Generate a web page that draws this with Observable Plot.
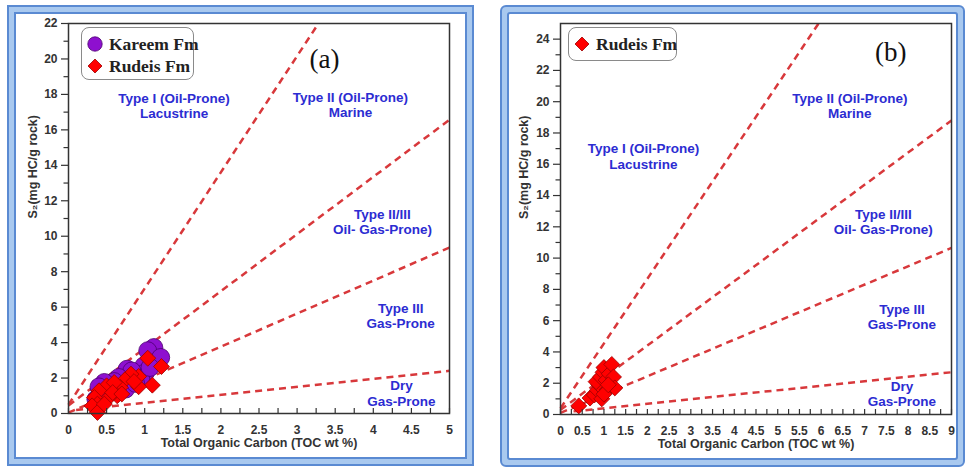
<!DOCTYPE html>
<html>
<head>
<meta charset="utf-8">
<script src="https://cdn.jsdelivr.net/npm/d3@7"></script>
<script src="https://cdn.jsdelivr.net/npm/@observablehq/plot@0.6"></script>
<style>
  body { margin: 0; background: #fff; }
  #page { position: relative; width: 967px; height: 467px; overflow: hidden; font-family: "Liberation Sans", Arial, sans-serif; }
  .border { position: absolute; box-sizing: border-box; border: 2px solid #5a8ad2; background: #a9c9ef; padding: 5px; }
  .border > div { box-sizing: border-box; width: 100%; height: 100%; border: 2px solid #5a8ad2; background: #fff; }
  .chart { position: absolute; top: 0; }
  .legend { position: absolute; box-sizing: border-box; border: 1.5px solid #8a8a8a; border-radius: 8px; background: #fff;
            font-family: "Liberation Serif", "Times New Roman", serif; font-weight: bold; font-size: 17.5px; color: #222; }
  .legend .row { position: absolute; left: 4px; height: 20px; display: flex; align-items: center; white-space: nowrap; }
  .legend .row svg { margin-right: 5px; }
</style>
</head>
<body>
<div id="page">
  <div class="border" style="left:7px; top:5px; width:467px; height:461px;"><div></div></div>
  <div class="border" style="left:500px; top:5px; width:465px; height:462px; border-radius:6px;"><div style="border-radius:3px;"></div></div>
</div>
<script>
// Kareem Fm samples (panel a): TOC wt % and S2 mg HC/g rock
const kareemTOC = [1.12, 1.04, 1.21, 0.99, 1.01, 0.77, 0.83, 0.66, 0.60, 0.47, 0.40, 0.95, 1.07, 0.36, 0.75, 0.56, 0.88, 0.52];
const kareemS2  = [3.72, 3.54, 3.16, 2.69, 2.31, 2.50, 2.40, 2.03, 1.80, 1.75, 1.50, 1.94, 2.60, 0.80, 1.38, 1.40, 1.70, 1.20];

// Rudeis Fm samples (panel a)
const rudeisTOC_a = [1.04, 1.22, 1.10, 0.92, 0.92, 0.82, 0.74, 0.68, 0.64, 0.53, 0.50, 0.40, 0.34, 0.38, 0.31, 0.38, 0.60, 0.47, 0.58, 0.86, 0.70];
const rudeisS2_a  = [3.12, 2.65, 1.60, 1.51, 2.09, 2.22, 1.90, 1.47, 1.00, 0.90, 1.56, 1.28, 0.90, 0.53, 0.43, 0.06, 1.75, 0.53, 1.18, 1.80, 1.10];

// Rudeis Fm samples (panel b)
const rudeisTOC_b = [0.42, 0.68, 0.78, 0.85, 0.88, 0.82, 0.95, 0.92, 0.98, 1.00, 1.05, 1.08, 1.12, 1.18, 1.22, 1.25, 1.00, 1.10];
const rudeisS2_b  = [0.55, 1.05, 1.25, 1.55, 1.90, 2.10, 1.00, 2.40, 2.70, 3.00, 2.20, 1.60, 2.60, 3.20, 2.40, 1.70, 1.30, 1.90];

// Kerogen-type boundary lines: start and end points (TOC, S2)
const boundaryFrom_a = [[0, 0.5], [0, 0.45], [0, 0.05], [0.1, 0.2]];
const boundaryTo_a   = [[3.28, 22], [5, 16.57], [5, 9.36], [5, 2.41]];
const boundaryFrom_b = [[0, 0.4], [0, 0.3], [0, 0.1], [0.3, 0.2]];
const boundaryTo_b   = [[5.94, 25], [9, 18.8], [9, 10.65], [9, 2.7]];

// Kerogen-type field names and where they sit
const zoneNames = ["Type I (Oil-Prone)\nLacustrine", "Type II (Oil-Prone)\nMarine", "Type II/III\nOil- Gas-Prone)", "Type III\nGas-Prone", "Dry\nGas-Prone"];
const zoneTOC_a = [1.385, 3.70, 4.12, 4.36, 4.37];
const zoneS2_a  = [17.35, 17.42, 10.84, 5.51, 1.15];
const zoneTOC_b = [1.91, 6.66, 7.43, 7.86, 7.86];
const zoneS2_b  = [16.52, 19.76, 12.31, 6.25, 1.31];

// Axis ticks
const xTicks_a = [0, 0.5, 1, 1.5, 2, 2.5, 3, 3.5, 4, 4.5, 5];
const yTicks_a = [0, 2, 4, 6, 8, 10, 12, 14, 16, 18, 20, 22];
const xTicks_b = [0, 0.5, 1, 1.5, 2, 2.5, 3, 3.5, 4, 4.5, 5, 5.5, 6, 6.5, 7, 7.5, 8, 8.5, 9];
const yTicks_b = [0, 2, 4, 6, 8, 10, 12, 14, 16, 18, 20, 22, 24];

const xTitle = "Total Organic Carbon (TOC wt %)";
const yTitle = "S\u2082(mg HC/g rock)";

const RED = "#ff0000", RED_EDGE = "#9a0000", PURPLE = "#8e10cf", PURPLE_EDGE = "#4b0070";
const LINE = "#d8383b", ZONE = "#2c2cd2", AXIS = "#333";

function zip(xs, ys) { return xs.map((x, i) => ({x, y: ys[i]})); }

function drawPanel(cfg) {
  const links = cfg.from.map((p, i) => ({x1: p[0], y1: p[1], x2: cfg.to[i][0], y2: cfg.to[i][1]}));
  const zones = zoneNames.map((t, i) => ({t, x: cfg.zoneX[i], y: cfg.zoneY[i]}));
  const xMinor = d3.range(0, cfg.xMax + 1e-9, 0.25);
  const yMinor = d3.range(1, cfg.yMax, 2);
  const tickStyle = {color: AXIS, fontSize: 12, fontWeight: "bold", label: null};

  const marks = [
    Plot.link(links, {x1: d => d.x1, y1: d => d.y1, x2: d => d.x2, y2: d => d.y2,
      stroke: LINE, strokeWidth: 2.5, strokeDasharray: "7,5"})
  ];
  if (cfg.kareem) marks.push(Plot.dot(cfg.kareem, {x: d => d.x, y: d => d.y, r: 9, symbol: "circle",
      fill: PURPLE, stroke: PURPLE_EDGE, strokeWidth: 0.8}));
  marks.push(
    Plot.dot(cfg.rudeis, {x: d => d.x, y: d => d.y, r: 7.2, symbol: "diamond2",
      fill: RED, stroke: RED_EDGE, strokeWidth: 0.8}),
    Plot.text(zones, {x: d => d.x, y: d => d.y, text: d => d.t, fill: ZONE, fontWeight: "bold",
      fontSize: 13.5, lineHeight: 1.12}),
    Plot.text([cfg.tag], {x: d => d.x, y: d => d.y, text: d => d.t, fontFamily: "Liberation Serif, Times New Roman, serif",
      fontSize: 27, fill: "#111"}),
    Plot.axisY(cfg.yTicks, {...tickStyle, tickSize: 7, tickPadding: 4, strokeWidth: 1.2, tickFormat: d => String(d)}),
    Plot.axisY(yMinor, {...tickStyle, tickSize: 4.5, tickPadding: 0, tickFormat: () => "", strokeWidth: 1.2}),
    Plot.axisX(cfg.xTicks, {...tickStyle, tickSize: 0, tickPadding: 12, tickFormat: d => String(d)}),
    Plot.axisX(xMinor, {...tickStyle, tickSize: -5, tickPadding: 0, tickFormat: () => "", strokeWidth: 1.2}),
    Plot.text([yTitle], {frameAnchor: "left", rotate: -90, dx: cfg.yTitleDx, text: d => d,
      fontSize: 12.5, fontWeight: "bold", fill: AXIS}),
    Plot.text([xTitle], {frameAnchor: "bottom", dy: cfg.xTitleDy, text: d => d,
      fontSize: 12.5, fontWeight: "bold", fill: AXIS}),
    Plot.frame({stroke: AXIS, strokeWidth: 1.5})
  );

  const svg = Plot.plot({
    width: 480, height: 467,
    marginLeft: cfg.mL, marginRight: cfg.mR, marginTop: cfg.mT, marginBottom: cfg.mB,
    x: {domain: [0, cfg.xMax], axis: null},
    y: {domain: [0, cfg.yMax], axis: null},
    style: {background: "transparent", fontFamily: "Liberation Sans, Arial, sans-serif", overflow: "visible"},
    marks
  });
  svg.classList.add("chart");
  svg.style.left = cfg.left + "px";
  document.getElementById("page").appendChild(svg);
}

drawPanel({
  left: 0, mL: 68, mR: 31, mT: 23, mB: 54, xMax: 5, yMax: 22,
  xTicks: xTicks_a, yTicks: yTicks_a,
  kareem: zip(kareemTOC, kareemS2), rudeis: zip(rudeisTOC_a, rudeisS2_a),
  from: boundaryFrom_a, to: boundaryTo_a, zoneX: zoneTOC_a, zoneY: zoneS2_a,
  tag: {t: "(a)", x: 3.36, y: 19.95}, yTitleDx: -36, xTitleDy: 33
});

drawPanel({
  left: 487, mL: 73, mR: 16, mT: 23, mB: 53, xMax: 9, yMax: 25,
  xTicks: xTicks_b, yTicks: yTicks_b,
  rudeis: zip(rudeisTOC_b, rudeisS2_b),
  from: boundaryFrom_b, to: boundaryTo_b, zoneX: zoneTOC_b, zoneY: zoneS2_b,
  tag: {t: "(b)", x: 7.6, y: 23.13}, yTitleDx: -37, xTitleDy: 33
});

// Legends
function legend(left, top, width, height, entries) {
  const box = document.createElement("div");
  box.className = "legend";
  Object.assign(box.style, {left: left + "px", top: top + "px", width: width + "px", height: height + "px"});
  entries.forEach(e => {
    const row = document.createElement("div");
    row.className = "row";
    row.style.top = e.top + "px";
    const sym = e.symbol === "circle"
      ? `<svg width="18" height="18"><circle cx="9" cy="9" r="7.2" fill="${PURPLE}" stroke="${PURPLE_EDGE}" stroke-width="0.8"/></svg>`
      : `<svg width="18" height="18"><path d="M9,2L16,9L9,16L2,9Z" fill="${RED}" stroke="${RED_EDGE}" stroke-width="0.8"/></svg>`;
    row.innerHTML = sym + `<span>${e.label}</span>`;
    box.appendChild(row);
  });
  document.getElementById("page").appendChild(box);
}
legend(81, 27, 113, 53, [{symbol: "circle", label: "Kareem Fm", top: 6}, {symbol: "diamond", label: "Rudeis Fm", top: 28}]);
legend(568, 27, 109, 34, [{symbol: "diamond", label: "Rudeis Fm", top: 6}]);
</script>
</body>
</html>
